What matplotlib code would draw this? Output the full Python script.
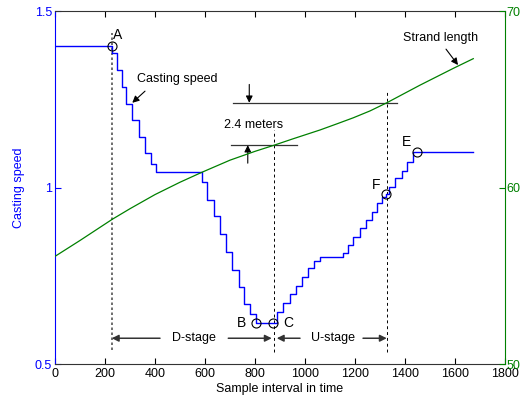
import matplotlib
matplotlib.use('Agg')
import matplotlib.pyplot as plt

plt.rcParams['font.family'] = ['Liberation Sans', 'DejaVu Sans']
plt.rcParams['font.size'] = 9

# casting speed, step changes (sample index where the level starts, level)
speed_x = [0, 228, 247, 269, 284, 309, 336, 360, 383, 404,
           587, 609, 636, 660, 683, 709, 736, 756, 780, 804,
           889, 913, 940, 963, 987, 1013, 1036, 1060, 1151, 1173,
           1193, 1220, 1244, 1269, 1287, 1307, 1324, 1336, 1360, 1387,
           1409, 1433, 1672]
speed_y = [1.40, 1.38, 1.333, 1.284, 1.238, 1.191, 1.144, 1.097, 1.068, 1.045,
           1.016, 0.965, 0.920, 0.867, 0.817, 0.767, 0.717, 0.669, 0.641, 0.616,
           0.648, 0.674, 0.698, 0.721, 0.747, 0.771, 0.793, 0.803, 0.814, 0.837,
           0.861, 0.884, 0.908, 0.931, 0.957, 0.974, 0.981, 1.002, 1.026, 1.048,
           1.073, 1.10, 1.10]

# strand length (right axis)
strand_x = [0, 100, 229, 300, 400, 500, 587, 700, 800, 877, 950, 1060,
            1130, 1193, 1260, 1327, 1400, 1460, 1530, 1593, 1673]
strand_y = [56.1, 57.0, 58.2, 58.8, 59.6, 60.3, 60.86, 61.55, 62.05, 62.4, 62.75, 63.26,
            63.62, 63.95, 64.34, 64.8, 65.35, 65.8, 66.3, 66.75, 67.3]

# marked points A..F
point_names = ['A', 'B', 'C', 'F', 'E']
point_x = [228, 802, 872, 1324, 1449]
point_y = [1.40, 0.616, 0.616, 0.981, 1.10]

x_ticks = list(range(0, 1801, 200))
left_ticks = [0.5, 1, 1.5]
right_ticks = [50, 60, 70]

blue = '#0000ff'
green = '#008000'

fig = plt.figure(figsize=(5.2, 4.05), dpi=100)
ax = fig.add_axes([0.1058, 0.1012, 0.8654, 0.8716])
ax2 = ax.twinx()

ax.step(speed_x, speed_y, where='post', color=blue, lw=1.0, zorder=3)
ax2.plot(strand_x, strand_y, color=green, lw=0.9)
ax.plot(point_x, point_y, 'o', mfc='none', mec='k', ms=6.5, mew=0.8, zorder=4)

ax.set_xlim(0, 1800)
ax.set_ylim(0.5, 1.5)
ax2.set_ylim(50, 70)
ax.set_xticks(x_ticks)
ax.set_yticks(left_ticks)
ax.set_yticklabels(['0.5', '1', '1.5'])
ax2.set_yticks(right_ticks)

ax.tick_params(axis='x', direction='in', top=True, length=4, pad=3, colors='k')
ax.tick_params(axis='y', direction='in', length=4, pad=2, colors=blue)
ax2.tick_params(axis='y', direction='in', length=4, pad=1, colors=green)
ax.spines['left'].set_color(blue)
ax2.spines['left'].set_visible(False)
ax2.spines['right'].set_color(green)
for sp in ['top', 'bottom']:
    ax.spines[sp].set_color('#333333')
    ax2.spines[sp].set_visible(False)
ax.spines['right'].set_visible(False)

ax.set_xlabel('Sample interval in time', labelpad=2)
ax.set_ylabel('Casting speed', color=blue, labelpad=7)

# vertical marker lines
ax.plot([229, 229], [0.54, 1.438], ls=(0, (1.5, 1.5)), color='#555555', lw=1.2, zorder=2)
ax.plot([877, 877], [0.534, 1.163], ls=(0, (3, 3)), color='k', lw=0.7, zorder=2)
ax.plot([1327, 1327], [0.534, 1.276], ls=(0, (3, 3)), color='k', lw=0.7, zorder=2)

# 2.4 meters dimension
ax.plot([712, 1368], [1.240, 1.240], color='#333333', lw=0.9)
ax.plot([704, 967], [1.120, 1.120], color='#333333', lw=0.9)
arr = dict(arrowstyle='-|>', color='k', lw=0.8, mutation_scale=10, shrinkA=0, shrinkB=0)
ax.annotate('', xy=(777, 1.240), xytext=(777, 1.292), arrowprops=arr)
ax.annotate('', xy=(771, 1.120), xytext=(771, 1.069), arrowprops=arr)
ax.text(795, 1.177, '2.4 meters', ha='center', va='center')

# stage arrows
stage_arr = dict(arrowstyle='-|>', color='#333333', lw=1.1, mutation_scale=10, shrinkA=0, shrinkB=0)
ax.annotate('', xy=(227, 0.573), xytext=(420, 0.573), arrowprops=stage_arr)
ax.annotate('', xy=(867, 0.573), xytext=(693, 0.573), arrowprops=stage_arr)
ax.text(555, 0.573, 'D-stage', ha='center', va='center')
ax.annotate('', xy=(887, 0.573), xytext=(980, 0.573), arrowprops=stage_arr)
ax.annotate('', xy=(1327, 0.573), xytext=(1232, 0.573), arrowprops=stage_arr)
ax.text(1112, 0.573, 'U-stage', ha='center', va='center')

# curve labels
ax.text(328, 1.307, 'Casting speed', ha='left', va='center')
ax.annotate('', xy=(309, 1.240), xytext=(360, 1.273), arrowprops=arr)
ax.text(1392, 1.423, 'Strand length', ha='left', va='center')
ax.annotate('', xy=(1612, 1.347), xytext=(1564, 1.392), arrowprops=arr)

# point letters
label_x = [252, 747, 932, 1283, 1407]
label_y = [1.432, 0.616, 0.616, 1.007, 1.13]
for name, lx, ly in zip(point_names, label_x, label_y):
    ax.text(lx, ly, name, ha='center', va='center', fontsize=10)

fig.savefig('out.png', dpi=100)
